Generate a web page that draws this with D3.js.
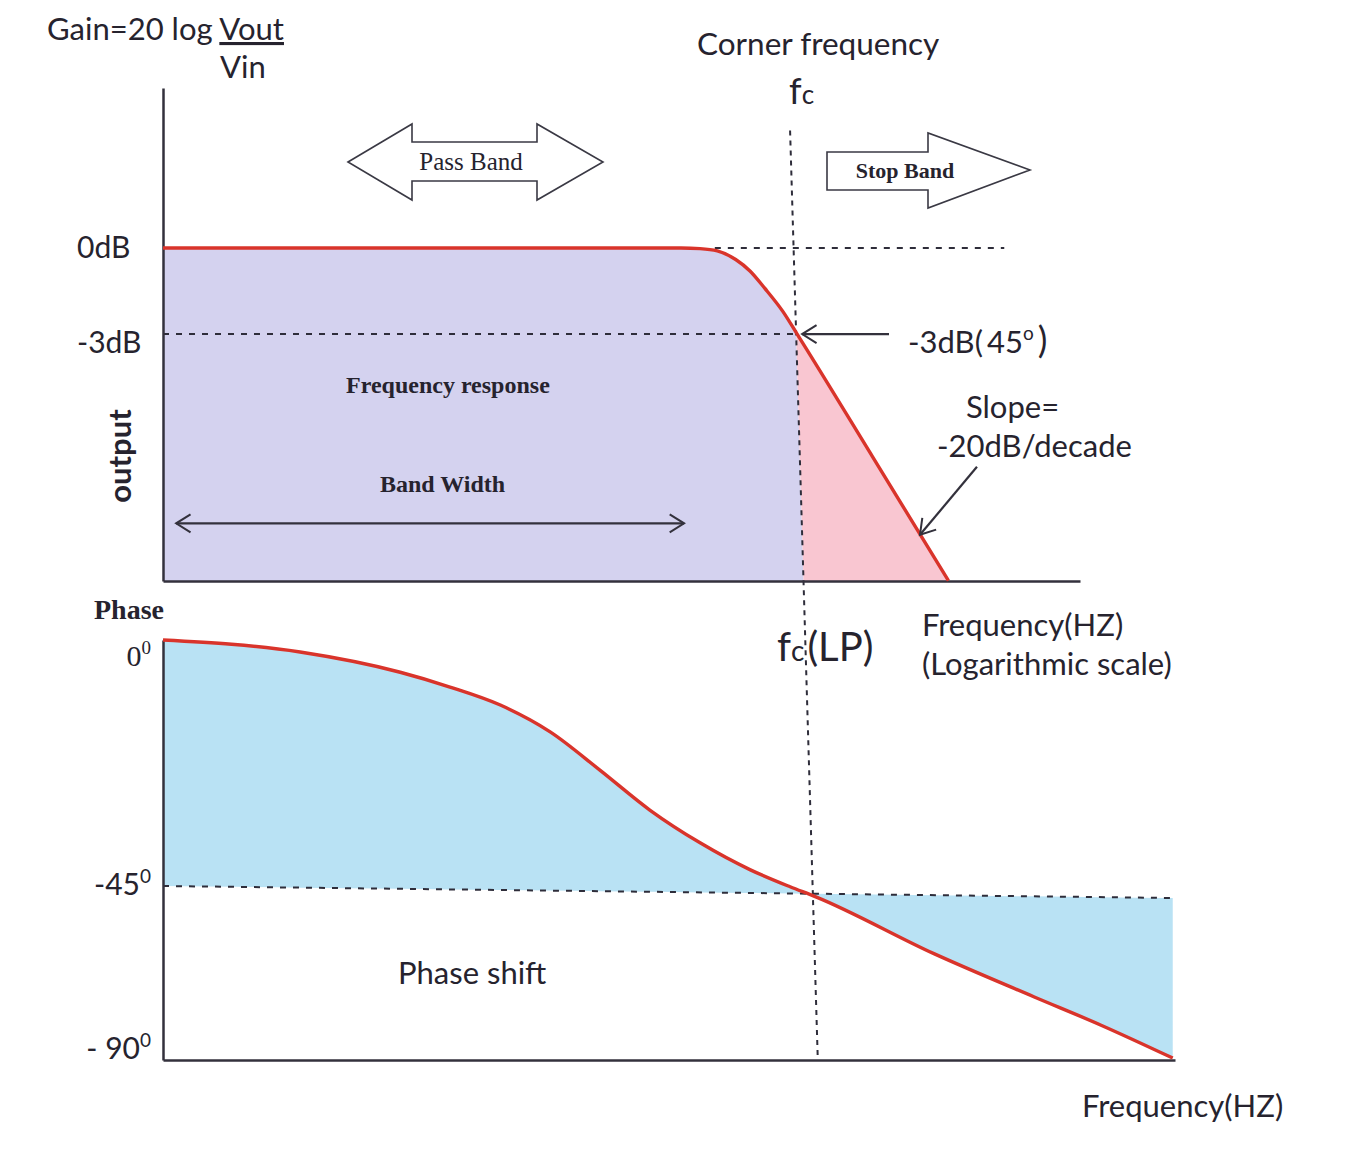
<!DOCTYPE html>
<html>
<head>
<meta charset="utf-8">
<script src="https://cdn.jsdelivr.net/npm/d3@7"></script>
<style>
  body { margin: 0; background: #fff; }
  svg { display: block; }
  text { fill: #26232e; }
  .sans { font-family: Lato, "Open Sans", sans-serif; }
  .serif { font-family: "Liberation Serif", "DejaVu Serif", serif; }
</style>
</head>
<body>
<script>
// frequency is normalised so that the corner frequency fc = 1

// gain curve (dB)
const gainFreq = [0.01, 0.43, 0.494, 0.56, 0.64, 0.71, 0.79, 0.90, 1, 1.73, 3.0];
const gainDb   = [0, 0, -0.02, -0.1, -0.4, -0.8, -1.4, -2.2, -3, -7.28, -11.6];
const gainTicks = [0, -3];
const gainTickLabels = ["0dB", "-3dB"];

// phase curve (degrees)
const phaseFreq = [0.01, 0.0263, 0.0533, 0.0757, 0.108, 0.1535, 0.218, 0.310, 0.442, 0.628, 0.834, 1, 2.30, 4.67, 7.48, 12.4];
const phaseDeg  = [0, -2.2, -5.9, -8.6, -11.9, -16.8, -23.8, -31.1, -37.1, -42.0, -45.2, -47.8, -62.5, -73.7, -81.0, -89.5];
const phaseTicks = [0, -45, -90];
const phaseTickLabels = ["0", "-45", "- 90"];

// guide lines
const zeroGuideFreq = [0.55, 4.5];      // 0dB dotted extension
const minus3GuideFreq = [0.01, 0.985];  // -3dB dotted line
const phaseGuideFreq = [0.01, 12.4];    // -45 deg dotted line
const phaseGuideDeg = [-45, -48.1];
const fcLineFreq = [0.95, 1.014];       // top end (gain plot), bottom end (phase plot)
const bandWidthFreq = [0.011, 0.44];

const width = 1358, height = 1156;

const svg = d3.select("body").append("svg")
    .attr("width", width)
    .attr("height", height);

// scales
const xTop = d3.scaleLog().domain([0.01, 7.8]).range([163, 1080]);
const gainY = d3.scaleLinear().domain([5.58, -11.61]).range([88, 581]);
const xBot = d3.scaleLog().domain([0.01, 12.6]).range([163, 1175]);
const phaseY = d3.scaleLinear().domain([0, -45, -90]).range([640, 886, 1060]);

const gainData = gainFreq.map((f, i) => ({ f: f, v: gainDb[i] }));
const phaseData = phaseFreq.map((f, i) => ({ f: f, v: phaseDeg[i] }));

// fc dotted line, straight from the gain plot down to the phase axis
const fcX1 = xTop(fcLineFreq[0]), fcY1 = gainY(4.1);
const fcX2 = xBot(fcLineFreq[1]), fcY2 = phaseY(-90);
const fcX = y => fcX1 + (fcX2 - fcX1) * (y - fcY1) / (fcY2 - fcY1);

// clip paths left / right of the fc line
const defs = svg.append("defs");
defs.append("clipPath").attr("id", "leftOfFc").append("polygon")
    .attr("points", [[0, 0], [fcX(0), 0], [fcX(height), height], [0, height]].join(" "));
defs.append("clipPath").attr("id", "rightOfFc").append("polygon")
    .attr("points", [[fcX(0), 0], [width, 0], [width, height], [fcX(height), height]].join(" "));

// ---- gain plot fills
const gainArea = d3.area()
    .x(d => xTop(d.f))
    .y0(gainY.range()[1])
    .y1(d => gainY(d.v))
    .curve(d3.curveMonotoneX);

svg.append("path").datum(gainData)
    .attr("d", gainArea)
    .attr("fill", "#d4d2ef")
    .attr("clip-path", "url(#leftOfFc)");

svg.append("path").datum(gainData)
    .attr("d", gainArea)
    .attr("fill", "#f9c6d1")
    .attr("clip-path", "url(#rightOfFc)");

// ---- phase plot fill, between the -45 guide and the curve
const gx1 = xBot(phaseGuideFreq[0]), gy1 = phaseY(phaseGuideDeg[0]);
const gx2 = xBot(phaseGuideFreq[1]), gy2 = phaseY(phaseGuideDeg[1]);
const guideAt = x => gy1 + (gy2 - gy1) * (x - gx1) / (gx2 - gx1);

svg.append("path").datum(phaseData)
    .attr("d", d3.area()
        .x(d => xBot(d.f))
        .y0(d => guideAt(xBot(d.f)))
        .y1(d => phaseY(d.v))
        .curve(d3.curveMonotoneX))
    .attr("fill", "#b9e2f4");

// ---- dotted guides
const dotted = (x1, y1, x2, y2, dash) => svg.append("line")
    .attr("x1", x1).attr("y1", y1).attr("x2", x2).attr("y2", y2)
    .attr("stroke", "#2e2d3a")
    .attr("stroke-width", 2)
    .attr("stroke-dasharray", dash);

dotted(xTop(zeroGuideFreq[0]), gainY(0), xTop(zeroGuideFreq[1]), gainY(0), "6,7");
dotted(xTop(minus3GuideFreq[0]), gainY(-3), xTop(minus3GuideFreq[1]), gainY(-3), "6,7");
dotted(gx1, gy1, gx2, gy2, "6,7");
dotted(fcX1, fcY1, fcX2, fcY2, "5,5");

// ---- axes (lines only, labels drawn separately)
const styleAxis = g => {
    g.select(".domain").attr("stroke", "#33313c").attr("stroke-width", 2.5);
};
svg.append("g").attr("transform", "translate(163,0)")
    .call(d3.axisLeft(gainY).tickValues([]).tickSizeOuter(0)).call(styleAxis);
svg.append("g").attr("transform", "translate(0,581)")
    .call(d3.axisBottom(xTop).tickValues([]).tickSizeOuter(0)).call(styleAxis);
svg.append("g").attr("transform", "translate(163,0)")
    .call(d3.axisLeft(phaseY).tickValues([]).tickSizeOuter(0)).call(styleAxis);
svg.append("g").attr("transform", "translate(0,1060)")
    .call(d3.axisBottom(xBot).tickValues([]).tickSizeOuter(0)).call(styleAxis);

// ---- curves
svg.append("path").datum(gainData)
    .attr("d", d3.line().x(d => xTop(d.f)).y(d => gainY(d.v)).curve(d3.curveMonotoneX))
    .attr("fill", "none")
    .attr("stroke", "#d9342b")
    .attr("stroke-width", 3.4);

svg.append("path").datum(phaseData)
    .attr("d", d3.line().x(d => xBot(d.f)).y(d => phaseY(d.v)).curve(d3.curveMonotoneX))
    .attr("fill", "none")
    .attr("stroke", "#d9342b")
    .attr("stroke-width", 3.4);

// ---- arrows
function chevron(tx, ty, fx, fy, len, spread) {
    const a = Math.atan2(fy - ty, fx - tx);
    const p1 = [tx + len * Math.cos(a + spread), ty + len * Math.sin(a + spread)];
    const p2 = [tx + len * Math.cos(a - spread), ty + len * Math.sin(a - spread)];
    svg.append("path")
        .attr("d", `M${p1}L${tx},${ty}L${p2}`)
        .attr("fill", "none")
        .attr("stroke", "#33313c")
        .attr("stroke-width", 2);
}
function arrowLine(x1, y1, x2, y2, both) {
    svg.append("line")
        .attr("x1", x1).attr("y1", y1).attr("x2", x2).attr("y2", y2)
        .attr("stroke", "#33313c").attr("stroke-width", 2.2);
    chevron(x2, y2, x1, y1, 17, 0.56);
    if (both) chevron(x1, y1, x2, y2, 17, 0.56);
}

// band width
arrowLine(xTop(bandWidthFreq[0]), gainY(-9.6), xTop(bandWidthFreq[1]), gainY(-9.6), true);
// -3dB pointer
arrowLine(889, gainY(-3), xTop(1) + 5, gainY(-3), false);
// slope pointer, tip on the roll-off line
arrowLine(xTop(2.44) + 57, gainY(-10) - 68, xTop(2.44), gainY(-10), false);

// block arrows
const blockArrow = pts => svg.append("polygon")
    .attr("points", pts.join(" "))
    .attr("fill", "#fff")
    .attr("stroke", "#3a3944")
    .attr("stroke-width", 1.6);

blockArrow([[348, 162], [412, 124], [412, 142], [537, 142], [537, 124], [603, 162],
            [537, 200], [537, 181], [412, 181], [412, 200]]);
blockArrow([[827, 152], [928, 152], [928, 133], [1030, 170], [928, 208], [928, 190], [827, 190]]);

// ---- text
const label = (x, y, str, cls, size, anchor) => svg.append("text")
    .attr("class", cls)
    .attr("x", x).attr("y", y)
    .attr("font-size", size)
    .attr("text-anchor", anchor || "start")
    .text(str);

label(471, 170, "Pass Band", "serif", 25, "middle");
label(905, 178, "Stop Band", "serif", 22, "middle").attr("font-weight", "bold");

// gain formula
const gainTitle = label(47, 40, "Gain=20 log ", "sans", 31);
gainTitle.append("tspan").attr("text-decoration", "underline").text("Vout");
label(220, 78, "Vin", "sans", 31);

label(697, 55, "Corner frequency", "sans", 31.5);
const fcTop = label(789, 104, "f", "sans", 36);
fcTop.append("tspan").attr("font-size", 26).text("c");

// gain tick labels
const gainLabelDy = [10, 19];
gainTicks.forEach((v, i) => {
    label(77, gainY(v) + gainLabelDy[i], gainTickLabels[i], "sans", 30);
});

// rotated y title
svg.append("text")
    .attr("class", "sans")
    .attr("transform", "translate(131,456) rotate(-90)")
    .attr("text-anchor", "middle")
    .attr("font-size", 31)
    .attr("font-weight", "bold")
    .text("output");

label(346, 393, "Frequency response", "serif", 24).attr("font-weight", "bold");
label(380, 492, "Band Width", "serif", 24).attr("font-weight", "bold");

const m3 = label(908, 353, "-3dB(", "sans", 31);
m3.append("tspan").attr("dx", 4).text("45");
m3.append("tspan").attr("font-size", 19).attr("dy", -13).text("o");
m3.append("tspan").attr("dy", 13).attr("dx", 4).attr("font-size", 36).text(")");

label(966, 418, "Slope=", "sans", 31);
label(937, 457, "-20dB/decade", "sans", 31);

const fcLp = label(777, 661, "f", "sans", 40);
fcLp.append("tspan").attr("font-size", 28).text("c");
fcLp.append("tspan").attr("dx", 3).text("(LP)");

label(922, 636, "Frequency(HZ)", "sans", 31);
label(922, 675, "(Logarithmic scale)", "sans", 31);

// phase labels
label(94, 619, "Phase", "serif", 28).attr("font-weight", "bold");
const phaseLabelDy = [26, 9, -1];
phaseTicks.forEach((v, i) => {
    const t = label(151, phaseY(v) + phaseLabelDy[i], phaseTickLabels[i], i === 0 ? "serif" : "sans", 30, "end");
    t.append("tspan").attr("font-size", 19).attr("dy", -12).text("0");
});

label(398, 984, "Phase shift", "sans", 31);
label(1082, 1117, "Frequency(HZ)", "sans", 31);
</script>
</body>
</html>
